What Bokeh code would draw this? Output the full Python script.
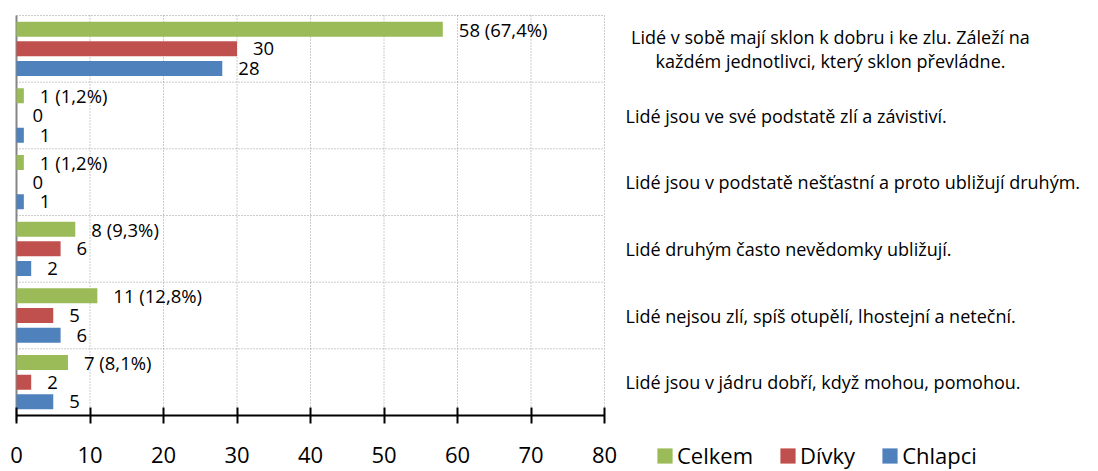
from bokeh.plotting import figure
from bokeh.models import ColumnDataSource, FixedTicker, Legend, LegendItem
from bokeh.core.properties import value
from bokeh.embed import file_html
from bokeh.resources import INLINE

categories = [
    "Lidé v sobě mají sklon k dobru i ke zlu. Záleží na\nkaždém jednotlivci, který sklon převládne.",
    "Lidé jsou ve své podstatě zlí a závistiví.",
    "Lidé jsou v podstatě nešťastní a proto ubližují druhým.",
    "Lidé druhým často nevědomky ubližují.",
    "Lidé nejsou zlí, spíš otupělí, lhostejní a neteční.",
    "Lidé jsou v jádru dobří, když mohou, pomohou.",
]
celkem = [58, 1, 1, 8, 11, 7]
divky = [30, 0, 0, 6, 5, 2]
chlapci = [28, 1, 1, 2, 6, 5]
series_names = ["Celkem", "Dívky", "Chlapci"]
colors = ["#9BBB59", "#C0504D", "#4F81BD"]
x_ticks = [0, 10, 20, 30, 40, 50, 60, 70, 80]

FONT = "Open Sans"
n = len(categories)
total = sum(celkem)
ypos = [n - i - 0.5 for i in range(n)]
celkem_labels = [f"{v} ({v / total * 100:.1f}%)".replace(".", ",") for v in celkem]

# layout constants (pixels)
W, H = 1090, 470
X0_PX, X1_PX = 16, 604      # value-axis extent
Y_TOP_PX, Y_BOT_PX = 15, 415  # category area extent
XMAX = x_ticks[-1]
sx = (X1_PX - X0_PX) / XMAX
sy = (Y_BOT_PX - Y_TOP_PX) / n
x_range = (-X0_PX / sx, (W - X0_PX) / sx)
y_range = (-(H - Y_BOT_PX) / sy, n + Y_TOP_PX / sy)

p = figure(width=W, height=H, x_range=x_range, y_range=y_range,
           output_backend="svg", toolbar_location=None, y_axis_location=None,
           min_border_left=0, min_border_right=0, min_border_top=0, min_border_bottom=0)
p.outline_line_color = None
p.xgrid.visible = False
p.ygrid.visible = False

# grid lines (dotted) limited to the chart area
p.segment(x0=x_ticks[1:], x1=x_ticks[1:], y0=0, y1=n,
          line_color="#999999", line_dash="1 2", line_width=1)
p.segment(x0=0, x1=XMAX, y0=list(range(1, n + 1)), y1=list(range(1, n + 1)),
          line_color="#999999", line_dash="1 2", line_width=1)
# left category axis line
p.segment(x0=[0], x1=[0], y0=[-0.08], y1=[n], line_color="#868686", line_width=2)

offsets = [0.295, 0.0, -0.295]
vals = [celkem, divky, chlapci]
labs = [celkem_labels, [str(v) for v in divky], [str(v) for v in chlapci]]
bars = []
for k in range(3):
    src = ColumnDataSource(dict(y=[y + offsets[k] for y in ypos], v=vals[k], t=labs[k]))
    bars.append(p.hbar(y="y", right="v", left=0, height=0.225, source=src,
                       fill_color=colors[k], line_color=None))
    p.text(x="v", y="y", text="t", source=src, x_offset=16,
           text_baseline="middle", text_align="left",
           text_font=value(FONT), text_font_size="18.5px", text_color="#000000")

ax = p.xaxis[0]
ax.fixed_location = 0
ax.bounds = (0, XMAX)
ax.ticker = FixedTicker(ticks=x_ticks)
ax.axis_line_color = "#000000"
ax.axis_line_width = 2
ax.major_tick_line_width = 2
ax.major_tick_line_color = "#000000"
ax.major_tick_in = 8
ax.major_tick_out = 8
ax.minor_tick_line_color = None
ax.major_label_standoff = 23
ax.major_label_text_font = FONT
ax.major_label_text_font_size = "22px"
ax.major_label_text_color = "#000000"

# category labels on the right
LABEL_X = (625 - X0_PX) / sx
CENTER_X = (830 - X0_PX) / sx
single = [(c, y) for c, y in zip(categories, ypos) if "\n" not in c]
multi = [(c, y) for c, y in zip(categories, ypos) if "\n" in c]
p.text(x=[LABEL_X] * len(single), y=[y for _, y in single], text=[c for c, _ in single],
       text_align="left", text_baseline="middle", text_font=value(FONT),
       text_font_size="18px", text_color="#000000")
p.text(x=[CENTER_X] * len(multi), y=[y for _, y in multi], text=[c for c, _ in multi],
       text_align="center", text_baseline="middle", text_font=value(FONT),
       text_font_size="18px", text_color="#000000", text_line_height=1.0)

legend = Legend(items=[LegendItem(label=series_names[k], renderers=[bars[k]]) for k in range(3)],
                orientation="horizontal", location=(655, 0),
                glyph_width=19, glyph_height=19, label_standoff=3, spacing=25,
                padding=0, margin=0, border_line_color=None, background_fill_alpha=0,
                label_text_font=FONT, label_text_font_size="22px",
                label_text_color="#000000")
p.add_layout(legend)

open("out.html", "w").write(file_html(p, INLINE))
